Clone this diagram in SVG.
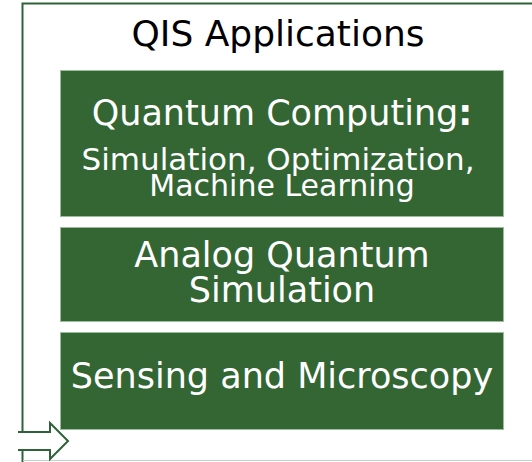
<svg xmlns="http://www.w3.org/2000/svg" width="532" height="462" viewBox="0 0 532 462">
  <style>
    .box { fill: #336633; stroke: #9dbb9d; stroke-width: 1; }
    .t { font-family: "DejaVu Sans", Verdana, sans-serif; fill: #ffffff; text-anchor: middle; }
    .title { font-family: "DejaVu Sans", Verdana, sans-serif; fill: #000000; text-anchor: middle; }
    .frame { fill: none; stroke: #2f6238; stroke-width: 2; }
  </style>
  <rect width="532" height="462" fill="#ffffff"/>
  <g id="frame">
    <polyline class="frame" points="22.5,432 22.5,3.5 532,3.5"/>
    <line class="frame" x1="22.5" y1="450" x2="22.5" y2="462"/>
    <line x1="23" y1="460.5" x2="532" y2="460.5" stroke="#cccccc" stroke-width="1"/>
    <text class="title" x="278" y="46" font-size="36">QIS Applications</text>
  </g>
  <g id="quantum-computing">
    <rect class="box" x="60.5" y="70.5" width="443" height="146"/>
    <text class="t" x="282" y="125" font-size="35">Quantum Computing<tspan font-weight="bold">:</tspan></text>
    <text class="t" x="278" y="170" font-size="31">Simulation, Optimization,</text>
    <text class="t" x="282" y="196" font-size="30">Machine Learning</text>
  </g>
  <g id="analog-simulation">
    <rect class="box" x="60.5" y="227.5" width="443" height="94"/>
    <text class="t" x="282" y="267" font-size="35">Analog Quantum</text>
    <text class="t" x="282" y="302" font-size="35">Simulation</text>
  </g>
  <g id="sensing">
    <rect class="box" x="60.5" y="332.5" width="443" height="97"/>
    <text class="t" x="282" y="388" font-size="35">Sensing and Microscopy</text>
  </g>
  <g id="connectors">
    <polyline points="18,432 50,432 50,423 68,441 50,459 50,450 18,450" fill="none" stroke="#2f6238" stroke-width="2" stroke-linejoin="miter"/>
  </g>
</svg>
